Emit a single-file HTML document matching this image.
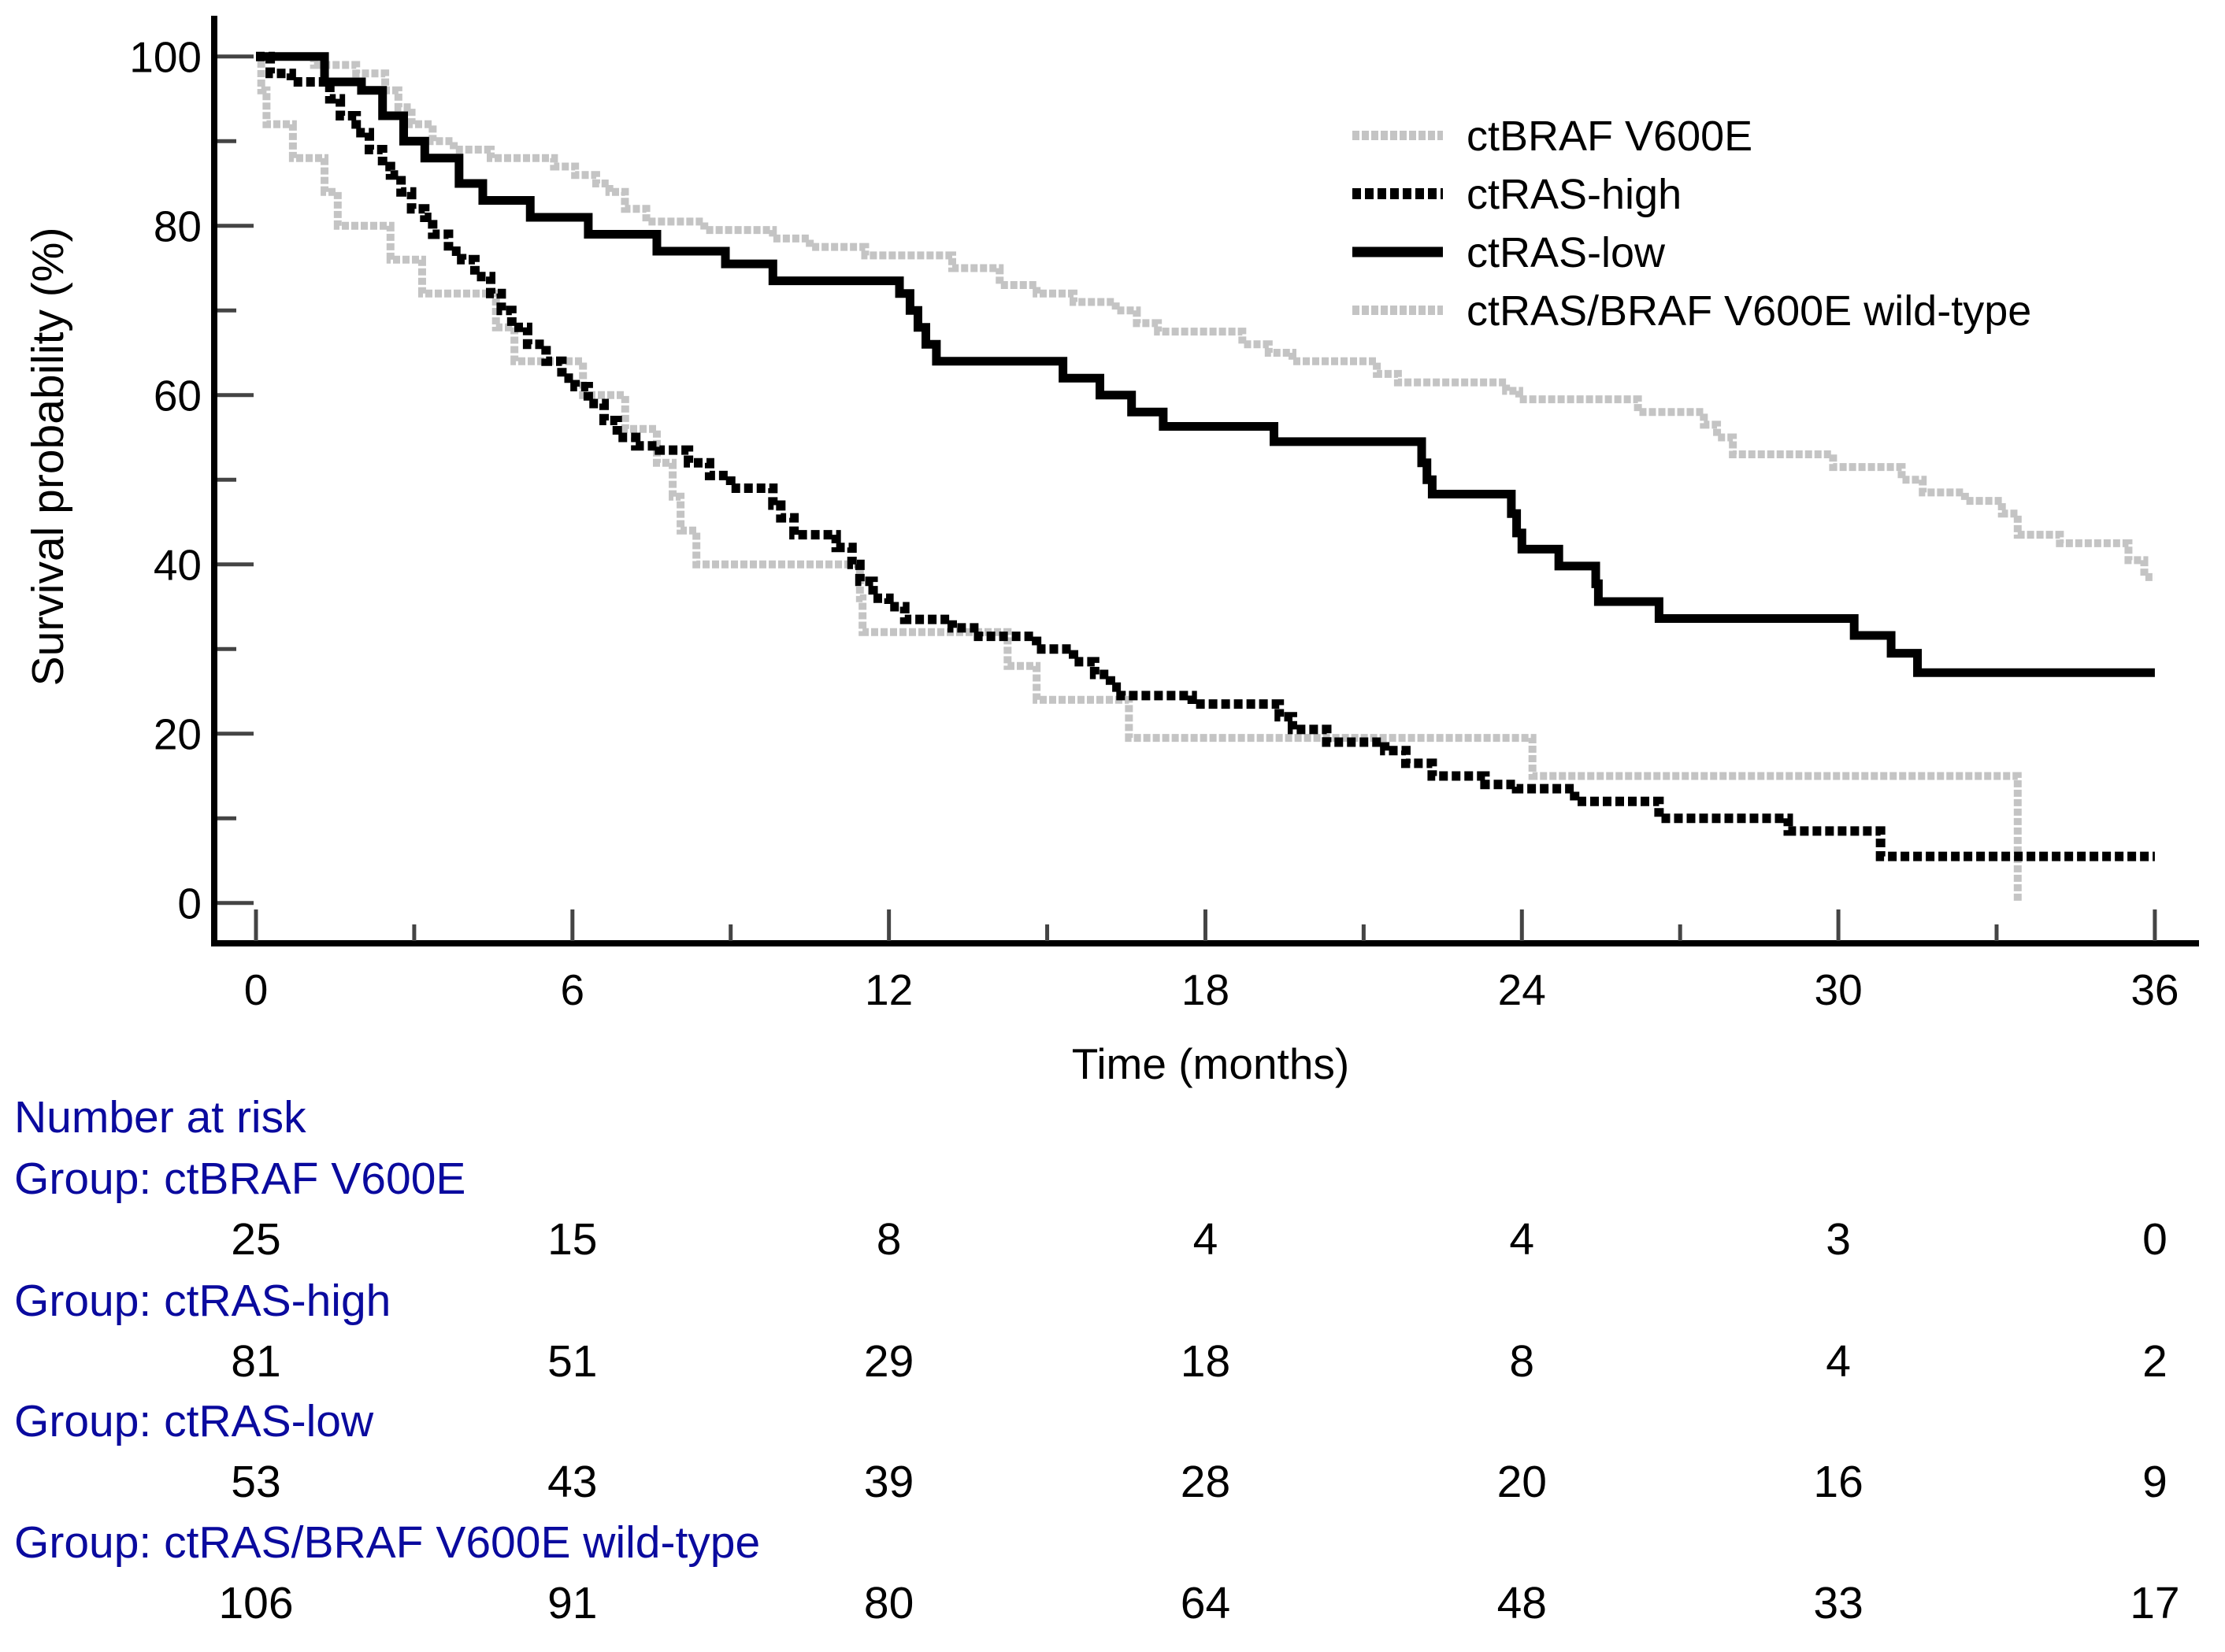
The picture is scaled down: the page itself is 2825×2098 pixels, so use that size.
<!DOCTYPE html>
<html><head><meta charset="utf-8"><style>
html,body{margin:0;padding:0;background:#fff;}
svg{display:block;font-family:"Liberation Sans",Arial,sans-serif;}
</style></head><body>
<svg id="chart" width="2825" height="2098" viewBox="0 0 2825 2098" xmlns="http://www.w3.org/2000/svg">
<g id="axes"></g>
<g id="curves"></g>
<g id="legend"></g>
<g id="risk"></g>
</svg>
<script>
const xTicks = [0, 6, 12, 18, 24, 30, 36];
const yTicks = [0, 20, 40, 60, 80, 100];
const seriesNames = ["ctBRAF V600E", "ctRAS-high", "ctRAS-low", "ctRAS/BRAF V600E wild-type"];
const brafTimes = [0, 0.1, 0.2, 0.7, 1.3, 1.55, 2.55, 3.15, 4.55, 4.9, 6.2, 7.0, 7.6, 7.9, 8.05, 8.35, 11.45, 11.5, 14.25, 14.8, 16.55, 24.2, 33.4];
const brafSurv  = [100, 96, 92, 88, 84, 80, 76, 72, 68, 64, 60, 56, 52, 48, 44, 40, 36, 32, 28, 24, 19.5, 15, 0];
const brafEnd = 33.4;
const highTimes = [0, 0.27, 0.67, 1.4, 1.6, 1.9, 2.15, 2.4, 2.55, 2.75, 2.95, 3.2, 3.35, 3.65, 3.9, 4.15, 4.45, 4.65, 4.85, 5.15, 5.5, 5.8, 6.05, 6.3, 6.6, 6.85, 7.2, 7.65, 8.2, 8.6, 9.0, 9.8, 9.95, 10.2, 11.0, 11.3, 11.45, 11.7, 12.0, 12.3, 13.2, 13.7, 14.8, 15.5, 15.9, 16.2, 16.4, 17.75, 19.4, 19.65, 20.3, 21.4, 21.8, 22.3, 23.3, 23.9, 25.0, 26.6, 29.05, 30.8];
const highSurv  = [100, 98, 97, 95, 93, 91, 89, 87, 86, 84, 82, 81, 79, 77, 76, 74, 72, 70, 68, 66, 64, 62, 61, 59, 57, 55, 54, 53.5, 52, 50.5, 49, 47, 45.5, 43.5, 42, 40, 38, 36, 35, 33.5, 32.5, 31.5, 30, 28.5, 27, 25.5, 24.5, 23.5, 22, 20.5, 19, 18, 16.5, 15, 14, 13.5, 12, 10, 8.5, 5.5];
const highEnd = 36;
const lowTimes = [0, 1.3, 2.0, 2.4, 2.8, 3.2, 3.85, 4.3, 5.2, 6.3, 7.6, 8.9, 9.8, 12.2, 12.4, 12.55, 12.7, 12.9, 15.3, 16.0, 16.6, 17.2, 19.3, 22.1, 22.2, 22.3, 23.8, 23.9, 24.0, 24.7, 25.4, 25.45, 26.6, 30.3, 31.0, 31.5];
const lowSurv  = [100, 97, 96, 93, 90, 88, 85, 83, 81, 79, 77, 75.5, 73.5, 72, 70, 68, 66, 64, 62, 60, 58, 56.3, 54.5, 52, 50, 48.3, 46, 43.7, 41.8, 39.8, 37.7, 35.6, 33.6, 31.6, 29.5, 27.2];
const lowEnd = 36;
const wtTimes = [0, 1.1, 1.9, 2.45, 2.7, 2.95, 3.35, 3.75, 4.45, 5.65, 6.05, 6.45, 6.7, 6.995, 7.4, 8.5, 9.8, 10.5, 11.55, 13.2, 14.1, 14.8, 15.5, 16.3, 16.7, 17.1, 18.7, 19.2, 19.65, 21.25, 21.65, 23.7, 23.95, 26.2, 27.45, 27.7, 28.0, 29.9, 31.2, 31.6, 32.4, 33.1, 33.4, 34.2, 35.5, 35.8];
const wtSurv  = [100, 99, 98, 96, 94, 92, 90, 89, 88, 87, 86, 85, 84, 82, 80.5, 79.5, 78.5, 77.5, 76.5, 75, 73, 72, 71, 70, 68.5, 67.5, 66, 65, 64, 62.5, 61.5, 60.5, 59.5, 58, 56.5, 55, 53, 51.5, 50, 48.5, 47.5, 46, 43.5, 42.5, 40.5, 38.5];
const wtEnd = 36;
const riskBraf = [25, 15, 8, 4, 4, 3, 0];
const riskHigh = [81, 51, 29, 18, 8, 4, 2];
const riskLow = [53, 43, 39, 28, 20, 16, 9];
const riskWt = [106, 91, 80, 64, 48, 33, 17];

const NS = "http://www.w3.org/2000/svg";
const X0 = 325, PXM = 66.97, Y0 = 1146.7, PXP = 10.75;
function sx(m){ return X0 + m * PXM; }
function sy(p){ return Y0 - p * PXP; }
function mk(tag, attrs, parent){
  const e = document.createElementNS(NS, tag);
  for (const k in attrs) e.setAttribute(k, attrs[k]);
  parent.appendChild(e);
  return e;
}
const axes = document.getElementById("axes");
let el;
el = mk("line", {x1:272, y1:20, x2:272, y2:1202, stroke:"#000", "stroke-width":8}, axes);


el = mk("line", {x1:268, y1:1198, x2:2792, y2:1198, stroke:"#000", "stroke-width":8}, axes);


for (let p = 0; p <= 100; p += 10) {
  const major = p % 20 === 0;
  el = mk("line", {x1:276, y1:sy(p), x2: major ? 322 : 300, y2:sy(p), stroke:"#444", "stroke-width":5}, axes);
  
  
}
yTicks.forEach(p => {
  el = mk("text", {x:256, y:sy(p) + 20, "text-anchor":"end", "font-size":55, fill:"#000"}, axes);
  el.textContent = String(p);
  
  
});
for (let m = 0; m <= 36; m += 3) {
  const major = m % 6 === 0;
  el = mk("line", {x1:sx(m), y1:1195, x2:sx(m), y2: major ? 1155 : 1174, stroke:"#444", "stroke-width":5}, axes);
  
  
}
xTicks.forEach(m => {
  el = mk("text", {x:sx(m), y:1276, "text-anchor":"middle", "font-size":55, fill:"#000"}, axes);
  el.textContent = String(m);
  
  
});
el = mk("text", {x:1537, y:1370, "text-anchor":"middle", "font-size":55, fill:"#000"}, axes);
el.textContent = "Time (months)";


el = mk("text", {x:0, y:0, "text-anchor":"middle", "font-size":57, fill:"#000", transform:"translate(80,580) rotate(-90)"}, axes);
el.textContent = "Survival probability (%)";



const curves = document.getElementById("curves");
function stepPath(times, surv, end){
  let d = "M" + sx(times[0]) + "," + sy(surv[0]);
  for (let i = 1; i < times.length; i++) {
    d += " H" + sx(times[i]) + " V" + sy(surv[i]);
  }
  d += " H" + sx(end);
  return d;
}
const styles = [
  {stroke:"#c4c4c4", w:10, dash:"9 3"},
  {stroke:"#000", w:12, dash:"11 5"},
  {stroke:"#000", w:11, dash:""},
  {stroke:"#c4c4c4", w:10, dash:"9 3"}
];
const data = [[brafTimes, brafSurv, brafEnd], [highTimes, highSurv, highEnd], [lowTimes, lowSurv, lowEnd], [wtTimes, wtSurv, wtEnd]];
const curveNames = ["curve-ctbraf-v600e", "curve-ctras-high", "curve-ctras-low", "curve-wild-type"];
const order = [3, 0, 2, 1];
order.forEach(i => {
  const s = styles[i];
  el = mk("path", {d: stepPath(data[i][0], data[i][1], data[i][2]), fill:"none", stroke:s.stroke, "stroke-width":s.w, "stroke-dasharray":s.dash, "stroke-linejoin":"miter"}, curves);
  
  
});

const legend = document.getElementById("legend");
const legY = [172, 246, 320, 394];
seriesNames.forEach((n, i) => {
  const s = styles[i];
  el = mk("line", {x1:1717, y1:legY[i], x2:1832, y2:legY[i], stroke:s.stroke, "stroke-width":s.w + 2, "stroke-dasharray":s.dash}, legend);
  
  
  el = mk("text", {x:1862, y:legY[i] + 19, "font-size":54, fill:"#000"}, legend);
  el.textContent = n;
  
  
});

const risk = document.getElementById("risk");
const blue = "#0a0a9e";
el = mk("text", {x:18, y:1438, "font-size":57, fill:blue}, risk);
el.textContent = "Number at risk";


const riskRows = [riskBraf, riskHigh, riskLow, riskWt];
const groupY = [1516, 1671, 1824, 1978];
riskRows.forEach((row, i) => {
  el = mk("text", {x:18, y:groupY[i], "font-size":57, fill:blue}, risk);
  el.textContent = "Group: " + seriesNames[i];
  
  
  row.forEach((v, j) => {
    el = mk("text", {x:sx(xTicks[j]), y:groupY[i] + 77, "text-anchor":"middle", "font-size":57, fill:"#000"}, risk);
    el.textContent = String(v);
    
    
  });
});
</script>
</body></html>
